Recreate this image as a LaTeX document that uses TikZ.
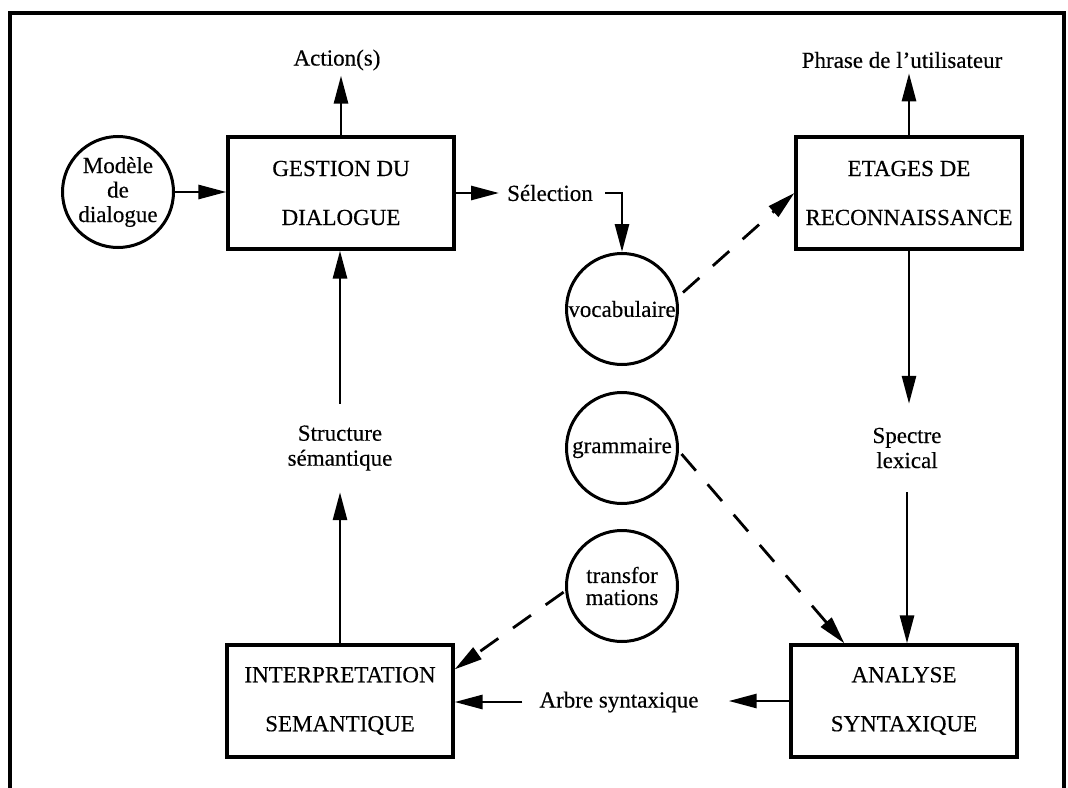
\documentclass[tikz,border=0pt]{standalone}
\usepackage{fontspec}
\setmainfont{Liberation Serif}[FakeBold=0.35]
\usetikzlibrary{arrows.meta}
\begin{document}
\begin{tikzpicture}[x=1pt,y=-1pt,
  txt/.style={font=\fontsize{23pt}{25pt}\selectfont, inner sep=0pt, align=center},
  box/.style={draw, line width=3.2pt, minimum width=226pt, minimum height=112pt,
    inner sep=0pt, align=center, font=\fontsize{23pt}{49pt}\selectfont},
  disc/.style={draw, circle, line width=3pt, minimum size=111pt, inner sep=0pt,
    align=center, font=\fontsize{23pt}{24.5pt}\selectfont},
  flow/.style={line width=2.8pt, -{Triangle[length=28pt,width=14pt]}},
  feed/.style={flow, dash pattern=on 22pt off 18pt},
]
\useasboundingbox (0,0) rectangle (1068,787);
\clip (0,0) rectangle (1068,787);
% outer frame
\draw[line width=3.5pt] (10,13) rectangle (1064,820);

% processing stages
\node[box] (gestion) at (341,193) {GESTION DU\\DIALOGUE};
\node[box] (etages)  at (909,193) {ETAGES DE\\RECONNAISSANCE};
\node[box] (interp)  at (340,701) {INTERPRETATION\\SEMANTIQUE};
\node[box] (analyse) at (904,701) {ANALYSE\\SYNTAXIQUE};

% knowledge sources
\node[disc] (modele) at (118,192) {Modèle\\de\\dialogue};
\node[disc] (voc)    at (622,309) {vocabulaire};
\node[disc] (gram)   at (622,448) {grammaire};
\node[disc, font=\fontsize{23pt}{22pt}\selectfont] (trans) at (622,586) {transfor\\mations};

% data labels
\node[txt] (action)  at (337,60)  {Action(s)};
\node[txt] (phrase)  at (902,60)  {Phrase de l'utilisateur};
\node[txt] (select)  at (550,193) {Sélection};
\node[txt, minimum height=88pt] (struct)  at (340,448) {Structure\\sémantique};
\node[txt, minimum height=88pt] (spectre) at (907,448) {Spectre\\lexical};
\node[txt] (arbre)   at (619,702) {Arbre syntaxique};

% main flow
\draw[flow] (modele.east) -- (modele.east -| gestion.west);
\draw[flow, shorten >=5pt] (gestion.north) -- (gestion.north |- action.south);
\draw[flow, shorten >=5pt] (etages.north) -- (etages.north |- phrase.south);
\draw[flow, shorten >=8pt] (gestion.east) -- (gestion.east -| select.west);
\draw[flow, shorten <=12pt] (select.east) -| (voc.north);
\draw[flow] (etages.south) -- (etages.south |- spectre.north);
\draw[flow] (spectre.south) -- (spectre.south |- analyse.north);
\draw[flow, shorten >=30pt] (analyse.west) -- (analyse.west -| arbre.east);
\draw[flow, shorten <=17pt] (arbre.west) -- (arbre.west -| interp.east);
\draw[flow] (interp.north) -- (interp.north |- struct.south);
\draw[flow] (struct.north) -- (struct.north |- gestion.south);

% knowledge used by the stages
\draw[feed, shorten <=7pt] (voc.12) -- (etages.west);
\draw[feed, shorten <=4pt] (gram.-3) -- ([xshift=55pt]analyse.north west);
\draw[feed, shorten <=2pt] (trans.185) -- ([yshift=-26pt]interp.north east);
\end{tikzpicture}
\end{document}
